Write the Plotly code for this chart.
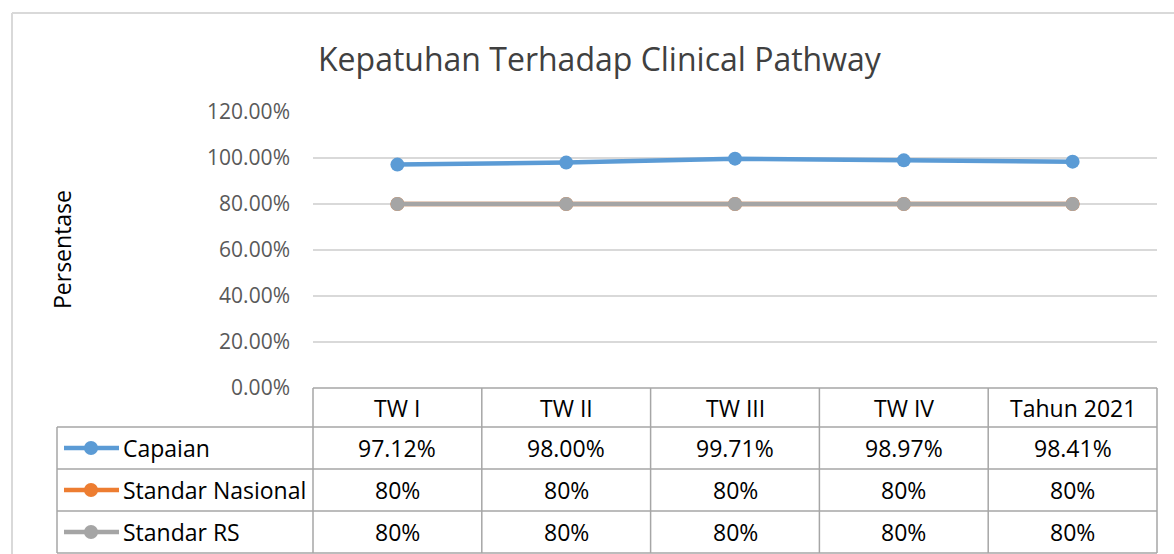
import plotly.graph_objects as go

# data
categories = ["TW I", "TW II", "TW III", "TW IV", "Tahun 2021"]
capaian = [0.9712, 0.9800, 0.9971, 0.9897, 0.9841]
standar_nasional = [0.80, 0.80, 0.80, 0.80, 0.80]
standar_rs = [0.80, 0.80, 0.80, 0.80, 0.80]
series_names = ["Capaian", "Standar Nasional", "Standar RS"]
series_colors = ["#5B9BD5", "#ED7D31", "#A5A5A5"]

W, H = 1174, 554
FONT = "Open Sans"

# pixel geometry of plot area / data table
plot_left, plot_right = 313, 1157
plot_top, plot_bottom = 112, 388
table_left = 57
row_edges = [388, 427, 469, 511, 553]


def px(x):
    return x / W


def py(y):
    return 1 - y / H


fig = go.Figure()
all_series = [capaian, standar_nasional, standar_rs]
for name, vals, col in zip(series_names, all_series, series_colors):
    fig.add_trace(go.Scatter(
        x=categories, y=vals, name=name, mode="lines+markers",
        line=dict(color=col, width=4.5),
        marker=dict(color=col, size=14),
        showlegend=False,
    ))

shapes = []
annotations = []
grid_col = "#A6A6A6"

# outer chart border (top/left visible)
shapes.append(dict(type="line", xref="paper", yref="paper",
                   x0=px(12), x1=px(1180), y0=py(13), y1=py(13),
                   line=dict(color="#D9D9D9", width=2)))
shapes.append(dict(type="line", xref="paper", yref="paper",
                   x0=px(12), x1=px(12), y0=py(13), y1=py(560),
                   line=dict(color="#D9D9D9", width=2)))

# table horizontal lines
shapes.append(dict(type="line", xref="paper", yref="paper",
                   x0=px(plot_left), x1=px(plot_right), y0=py(row_edges[0]), y1=py(row_edges[0]),
                   line=dict(color=grid_col, width=1.5)))
for ye in row_edges[1:]:
    shapes.append(dict(type="line", xref="paper", yref="paper",
                       x0=px(table_left), x1=px(plot_right), y0=py(ye), y1=py(ye),
                       line=dict(color=grid_col, width=1.5)))
# table vertical lines
col_w = (plot_right - plot_left) / len(categories)
shapes.append(dict(type="line", xref="paper", yref="paper",
                   x0=px(table_left), x1=px(table_left), y0=py(row_edges[1]), y1=py(row_edges[-1]),
                   line=dict(color=grid_col, width=1.5)))
for i in range(len(categories) + 1):
    xe = plot_left + i * col_w
    shapes.append(dict(type="line", xref="paper", yref="paper",
                       x0=px(xe), x1=px(xe), y0=py(row_edges[0]), y1=py(row_edges[-1]),
                       line=dict(color=grid_col, width=1.5)))

cell_font = dict(family=FONT, size=23, color="#000000")

# header row
for i, cat in enumerate(categories):
    xc = plot_left + (i + 0.5) * col_w
    annotations.append(dict(xref="paper", yref="paper", x=px(xc),
                            y=py((row_edges[0] + row_edges[1]) / 2), text=cat,
                            showarrow=False, font=cell_font, xanchor="center", yanchor="middle"))

# data rows
for r, (name, vals, col) in enumerate(zip(series_names, all_series, series_colors)):
    yc = (row_edges[r + 1] + row_edges[r + 2]) / 2
    # legend key
    shapes.append(dict(type="line", xref="paper", yref="paper",
                       x0=px(64), x1=px(119), y0=py(yc), y1=py(yc),
                       line=dict(color=col, width=4.5)))
    shapes.append(dict(type="circle", xref="paper", yref="paper",
                       x0=px(91 - 7), x1=px(91 + 7), y0=py(yc + 7), y1=py(yc - 7),
                       fillcolor=col, line=dict(color=col, width=0)))
    annotations.append(dict(xref="paper", yref="paper", x=px(121), y=py(yc), text=name,
                            showarrow=False, font=cell_font, xanchor="left", yanchor="middle"))
    for i, v in enumerate(vals):
        xc = plot_left + (i + 0.5) * col_w
        txt = f"{v * 100:.2f}%" if r == 0 else f"{v * 100:.0f}%"
        annotations.append(dict(xref="paper", yref="paper", x=px(xc), y=py(yc), text=txt,
                                showarrow=False, font=cell_font, xanchor="center", yanchor="middle"))

# title and y-axis title
annotations.append(dict(xref="paper", yref="paper", x=px(600), y=py(58),
                        text="Kepatuhan Terhadap Clinical Pathway", showarrow=False,
                        font=dict(family=FONT, size=32, color="#404040"),
                        xanchor="center", yanchor="middle"))
annotations.append(dict(xref="paper", yref="paper", x=px(62), y=py(250),
                        text="Persentase", showarrow=False, textangle=-90,
                        font=dict(family=FONT, size=23, color="#000000"),
                        xanchor="center", yanchor="middle"))

fig.update_layout(
    width=W, height=H,
    margin=dict(l=0, r=0, t=0, b=0, autoexpand=False),
    paper_bgcolor="white", plot_bgcolor="white",
    font=dict(family=FONT),
    xaxis=dict(domain=[px(plot_left), px(plot_right)], type="category",
               range=[-0.5, len(categories) - 0.5], showticklabels=False,
               showgrid=False, zeroline=False, showline=False, automargin=False),
    yaxis=dict(domain=[py(plot_bottom), py(plot_top)], range=[0, 1.2],
               tickvals=[0, 0.2, 0.4, 0.6, 0.8, 1.0, 1.2],
               tickformat=".2%", showgrid=True, gridcolor="#D9D9D9", gridwidth=1.5,
               zeroline=False, showline=False, ticks="", automargin=False,
               ticklabelstandoff=22,
               tickfont=dict(family=FONT, size=21, color="#595959")),
    shapes=shapes,
    annotations=annotations,
)

# page margin off so the figure sits at the window origin
fig.write_html("out.html", config={"displayModeBar": False},
               post_script="document.body.style.margin='0';document.body.style.overflow='hidden';")
